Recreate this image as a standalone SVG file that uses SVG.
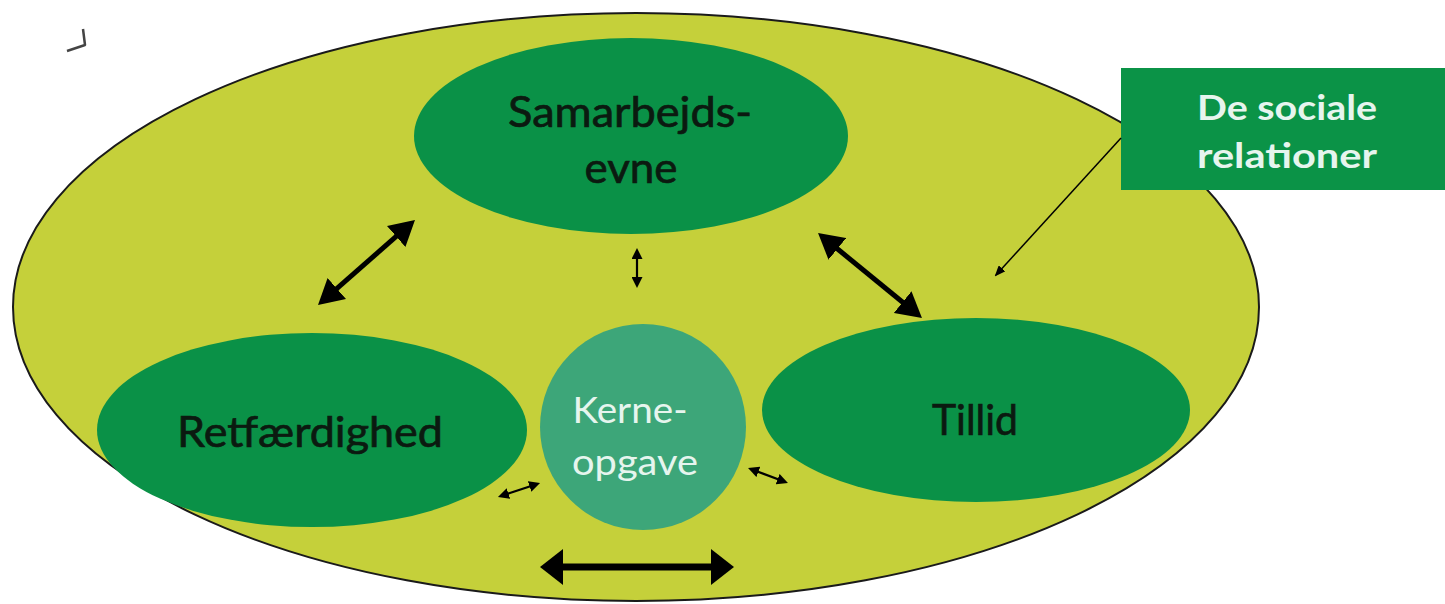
<svg xmlns="http://www.w3.org/2000/svg" width="1445" height="604" viewBox="0 0 1445 604">
  <defs>
    <style>
      .lbl { font-family: Lato, "Liberation Sans", sans-serif; fill: #0b1a10; stroke: #0b1a10; stroke-width: 0.7; }
      .wht { font-family: Lato, "Liberation Sans", sans-serif; fill: #e6f5ee; }
      .node { fill: #0a9147; }
      .thick { stroke: #000; stroke-width: 5; fill: none; }
      .thin { stroke: #000; stroke-width: 2.2; fill: none; }
    </style>
    <marker id="big" viewBox="0 0 25 28" markerUnits="userSpaceOnUse" markerWidth="25" markerHeight="28" refX="8" refY="14" orient="auto-start-reverse">
      <path d="M0,0 L25,14 L0,28 z" fill="#000"/>
    </marker>
    <marker id="wide" viewBox="0 0 23 36" markerUnits="userSpaceOnUse" markerWidth="23" markerHeight="36" refX="8" refY="18" orient="auto-start-reverse">
      <path d="M0,0 L23,18 L0,36 z" fill="#000"/>
    </marker>
    <marker id="small" viewBox="0 0 11 11" markerUnits="userSpaceOnUse" markerWidth="11" markerHeight="11" refX="4" refY="5.5" orient="auto-start-reverse">
      <path d="M0,0 L11,5.5 L0,11 z" fill="#000"/>
    </marker>
    <marker id="lead" viewBox="0 0 11 9" markerUnits="userSpaceOnUse" markerWidth="11" markerHeight="9" refX="9" refY="4.5" orient="auto">
      <path d="M0,0 L11,4.5 L0,9 z" fill="#000"/>
    </marker>
  </defs>

  <rect x="0" y="0" width="1445" height="604" fill="#ffffff"/>

  <path d="M67,51 L85,45 L83,29" fill="none" stroke="#444" stroke-width="2.5" stroke-linejoin="round"/>

  <g id="outer">
    <ellipse cx="636" cy="307" rx="623" ry="294" fill="#c5d03a" stroke="#1a1a1a" stroke-width="2"/>
  </g>

  <g id="samarbejdsevne">
    <ellipse class="node" cx="631" cy="136" rx="217" ry="98"/>
    <text class="lbl" x="630" y="127" font-size="42" text-anchor="middle" textLength="244" lengthAdjust="spacingAndGlyphs">Samarbejds-</text>
    <text class="lbl" x="631" y="183" font-size="42" text-anchor="middle" textLength="93" lengthAdjust="spacingAndGlyphs">evne</text>
  </g>

  <g id="retfaerdighed">
    <ellipse class="node" cx="312" cy="430" rx="215" ry="97"/>
    <text class="lbl" x="310" y="447" font-size="43" text-anchor="middle" textLength="266" lengthAdjust="spacingAndGlyphs">Retfærdighed</text>
  </g>

  <g id="tillid">
    <ellipse class="node" cx="976" cy="410" rx="214" ry="92"/>
    <text class="lbl" x="975" y="435" font-size="43" text-anchor="middle" textLength="86" lengthAdjust="spacingAndGlyphs">Tillid</text>
  </g>

  <g id="kerneopgave">
    <circle cx="643" cy="427" r="103" fill="#3da679"/>
    <text class="wht" x="630" y="423" font-size="37" text-anchor="middle" textLength="115" lengthAdjust="spacingAndGlyphs">Kerne-</text>
    <text class="wht" x="635" y="475" font-size="37" text-anchor="middle" textLength="126" lengthAdjust="spacingAndGlyphs">opgave</text>
  </g>

  <g id="sociale">
    <rect x="1121" y="68" width="324" height="122" fill="#0b9347"/>
    <text class="wht" x="1287" y="120" font-size="35" font-weight="bold" text-anchor="middle" textLength="180" lengthAdjust="spacingAndGlyphs">De sociale</text>
    <text class="wht" x="1287" y="168" font-size="35" font-weight="bold" text-anchor="middle" textLength="180" lengthAdjust="spacingAndGlyphs">relationer</text>
  </g>

  <g id="connectors">
    <line class="thick" x1="330.8" y1="293.8" x2="402.2" y2="231.2" marker-start="url(#big)" marker-end="url(#big)"/>
    <line class="thick" x1="831.2" y1="243.8" x2="908.8" y2="307.2" marker-start="url(#big)" marker-end="url(#big)"/>
    <line stroke="#000" stroke-width="7" x1="555" y1="567" x2="719" y2="567" marker-start="url(#wide)" marker-end="url(#wide)"/>
    <line class="thin" x1="637" y1="255" x2="637" y2="281" marker-start="url(#small)" marker-end="url(#small)"/>
    <line class="thin" x1="504.6" y1="494.8" x2="533.4" y2="485.2" marker-start="url(#small)" marker-end="url(#small)"/>
    <line class="thin" x1="754.6" y1="470.5" x2="781.4" y2="480.5" marker-start="url(#small)" marker-end="url(#small)"/>
    <line stroke="#000" stroke-width="1.5" x1="1121" y1="138" x2="996" y2="275" marker-end="url(#lead)"/>
  </g>
</svg>
